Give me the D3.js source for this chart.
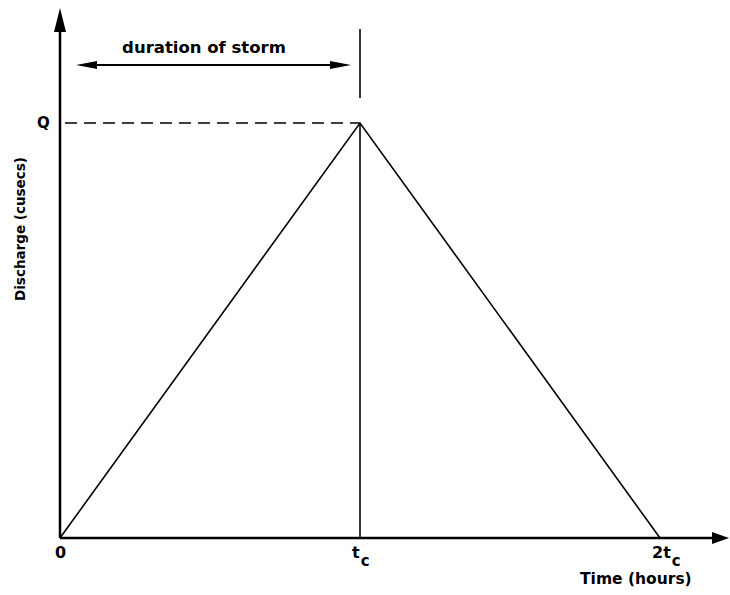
<!DOCTYPE html>
<html>
<head>
<meta charset="utf-8">
<script src="https://cdn.jsdelivr.net/npm/d3@7"></script>
<style>
  body { margin: 0; background: #fff; }
  text { font-family: "DejaVu Sans", sans-serif; fill: #000; }
</style>
</head>
<body>
<div id="chart"></div>
<script>
// hydrograph data (time in units of tc, discharge as fraction of Q)
var timeVals = [0, 1, 2];
var dischargeVals = [0, 1, 0];
var tickVals = [0, 1, 2];
var tickLabels = [["0", ""], ["t", "c"], ["2t", "c"]];

var svgWidth = 730, svgHeight = 595;

var svg = d3.select("#chart")
  .append("svg")
  .attr("width", svgWidth)
  .attr("height", svgHeight);

// scales
var xScale = d3.scaleLinear().domain([0, 2]).range([60, 660]);
var yScale = d3.scaleLinear().domain([0, 1]).range([538, 123]);

var x0 = xScale(0), y0 = yScale(0);

// x axis with arrow
svg.append("line")
  .attr("x1", x0).attr("y1", y0)
  .attr("x2", 714).attr("y2", y0)
  .attr("stroke", "#000").attr("stroke-width", 2.5);
svg.append("path")
  .attr("d", `M712,${y0 - 6} L729,${y0} L712,${y0 + 6} Z`)
  .attr("fill", "#000");

// y axis with arrow
svg.append("line")
  .attr("x1", x0).attr("y1", y0)
  .attr("x2", x0).attr("y2", 30)
  .attr("stroke", "#000").attr("stroke-width", 2.5);
svg.append("path")
  .attr("d", `M${x0 - 6},32 L${x0},8 L${x0 + 6},32 Z`)
  .attr("fill", "#000");

// tick labels
var ticks = svg.selectAll(".tick-label")
  .data(tickVals)
  .enter()
  .append("text")
  .attr("class", "tick-label")
  .attr("x", (d, i) => xScale(d) - (i === 0 ? 5 : 8))
  .attr("y", 558)
  .style("font-size", "16px")
  .style("font-weight", "bold");
ticks.append("tspan").text((d, i) => tickLabels[i][0]);
ticks.append("tspan")
  .attr("dy", 8)
  .attr("dx", 1)
  .style("font-size", "15px")
  .text((d, i) => tickLabels[i][1]);

// axis titles
svg.append("text")
  .attr("x", 580)
  .attr("y", 584)
  .style("font-size", "15.5px")
  .style("font-weight", "bold")
  .text("Time (hours)");

svg.append("text")
  .attr("transform", "translate(25, 229) rotate(-90)")
  .attr("text-anchor", "middle")
  .style("font-size", "13.5px")
  .style("font-weight", "bold")
  .text("Discharge (cusecs)");

// peak label and dashed guide
svg.append("text")
  .attr("x", 37)
  .attr("y", yScale(1) + 5)
  .style("font-size", "15px")
  .style("font-weight", "bold")
  .text("Q");

svg.append("line")
  .attr("x1", 65).attr("y1", yScale(1))
  .attr("x2", xScale(1)).attr("y2", yScale(1))
  .attr("stroke", "#000").attr("stroke-width", 1.6)
  .attr("stroke-dasharray", "12,7");

// vertical line at tc
svg.append("line")
  .attr("x1", xScale(1)).attr("y1", 29)
  .attr("x2", xScale(1)).attr("y2", 98)
  .attr("stroke", "#000").attr("stroke-width", 1.6);
svg.append("line")
  .attr("x1", xScale(1)).attr("y1", yScale(1))
  .attr("x2", xScale(1)).attr("y2", y0)
  .attr("stroke", "#000").attr("stroke-width", 1.6);

// duration of storm double arrow
var arrowY = 65;
svg.append("line")
  .attr("x1", 90).attr("y1", arrowY)
  .attr("x2", 338).attr("y2", arrowY)
  .attr("stroke", "#000").attr("stroke-width", 2);
svg.append("path")
  .attr("d", `M76,${arrowY} L97,${arrowY - 4} L97,${arrowY + 4} Z`)
  .attr("fill", "#000");
svg.append("path")
  .attr("d", `M351,${arrowY} L330,${arrowY - 4} L330,${arrowY + 4} Z`)
  .attr("fill", "#000");

svg.append("text")
  .attr("x", 204)
  .attr("y", 53)
  .attr("text-anchor", "middle")
  .style("font-size", "16.5px")
  .style("font-weight", "600")
  .text("duration of storm");

// triangular hydrograph
var line = d3.line()
  .x((d, i) => xScale(timeVals[i]))
  .y(d => yScale(d));

svg.append("path")
  .datum(dischargeVals)
  .attr("d", line)
  .attr("fill", "none")
  .attr("stroke", "#000")
  .attr("stroke-width", 1.6);
</script>
</body>
</html>
